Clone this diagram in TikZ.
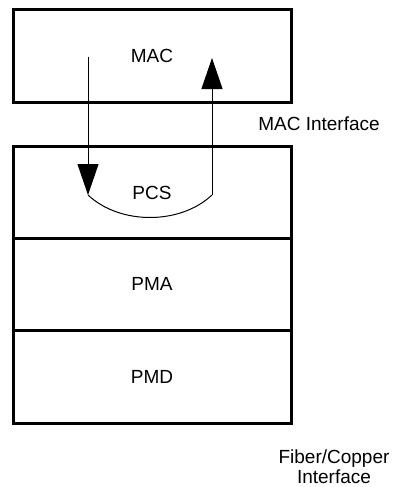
\documentclass[tikz,border=0pt]{standalone}
\usepackage{fontspec}
\setmainfont{Liberation Sans}
\usetikzlibrary{arrows.meta}
\begin{document}
\begin{tikzpicture}[x=1pt,y=-1pt,
  layerbox/.style={draw,line width=3pt,rectangle,minimum width=278pt,inner sep=0pt,
    font=\fontsize{19}{22}\selectfont},
  flow/.style={line width=1pt,-{Triangle[length=31pt,width=21pt]}},
  lbl/.style={font=\fontsize{19}{20}\selectfont,align=center,inner sep=0pt}]
\useasboundingbox (0,0) rectangle (392,487);
\node[layerbox,minimum height=92pt] (mac) at (152,56) {MAC};
\node[layerbox,minimum height=92pt] (pcs) at (152,192) {};
\node[layerbox,minimum height=92pt] (pma) at (152,284) {PMA};
\node[layerbox,minimum height=93pt] (pmd) at (152,376.5) {PMD};
\node[font=\fontsize{19}{22}\selectfont,inner sep=0pt] (pcstext) at (152,193) {PCS};
\coordinate (d1) at (88,57);
\coordinate (d2) at (88,195);
\coordinate (u1) at (212,195);
\coordinate (u2) at (212,58);
\draw[flow] (d1) -- (d2);
\draw[line width=1pt] (d2) .. controls (120,225) and (180,225) .. (u1);
\draw[flow] (u1) -- (u2);
\node[lbl] (macif) at (319,124) {MAC Interface};
\node[lbl] (fcif) at (334,467) {Fiber/Copper\\Interface};
\end{tikzpicture}
\end{document}
